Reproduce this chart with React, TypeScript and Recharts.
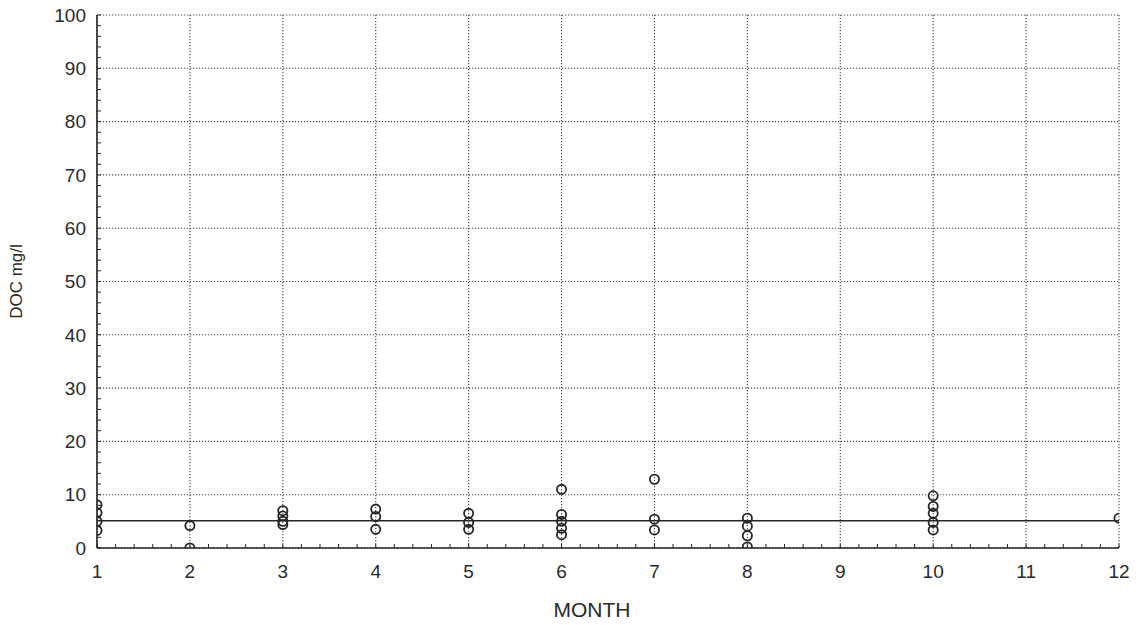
import React from 'react';
import { ScatterChart, Scatter, XAxis, YAxis, CartesianGrid, ReferenceLine } from 'recharts';

// ---- data -------------------------------------------------------------
const monthTicks = [1, 2, 3, 4, 5, 6, 7, 8, 9, 10, 11, 12];
const docTicks = [0, 10, 20, 30, 40, 50, 60, 70, 80, 90, 100];
const monthMinorTicks = Array.from({ length: 56 }, (_, i) => Math.round((1 + i * 0.2) * 10) / 10);
const docMinorTicks = Array.from({ length: 51 }, (_, i) => i * 2);

const sampleMonths = [
  1, 1, 1, 1,
  2, 2,
  3, 3, 3, 3,
  4, 4, 4,
  5, 5, 5,
  6, 6, 6, 6, 6,
  7, 7, 7,
  8, 8, 8, 8,
  10, 10, 10, 10, 10,
  12,
];
const sampleDOC = [
  8.1, 6.6, 5.0, 3.3,
  4.2, 0,
  7.0, 6.0, 5.0, 4.4,
  7.3, 5.9, 3.5,
  6.5, 4.8, 3.5,
  11.0, 6.3, 5.0, 3.7, 2.5,
  12.9, 5.4, 3.4,
  5.6, 4.1, 2.3, 0.2,
  9.8, 7.8, 6.5, 4.8, 3.4,
  5.6,
];
const meanDOC = 5.1;

const points = sampleMonths.map((m, i) => ({ month: m, doc: sampleDOC[i] }));

// ---- style ------------------------------------------------------------
const FONT = '"Liberation Sans", Arial, Helvetica, sans-serif';
const INK = '#262626';
const TEXT = '#2a2a2a';
const MINOR = 4;
const X_MARGIN = 17;
const Y_MARGIN = 11;

const isMajor = (v: number, step: number) => Math.abs(v / step - Math.round(v / step)) < 1e-6;

const BottomTick = (props: any) => {
  const { x, y, payload } = props;
  const v = payload.value;
  const axisY = y - X_MARGIN;
  return (
    <g>
      <line x1={x} x2={x} y1={axisY} y2={axisY - MINOR} stroke={INK} strokeWidth={1} />
      {isMajor(v, 1) && (
        <text x={x} y={y} dy="0.71em" textAnchor="middle" fontSize={19} fill={TEXT} fontFamily={FONT}>
          {Math.round(v)}
        </text>
      )}
    </g>
  );
};

const TopTick = (props: any) => {
  const { x, y } = props;
  return <line x1={x} x2={x} y1={y} y2={y + MINOR} stroke={INK} strokeWidth={1} />;
};

const LeftTick = (props: any) => {
  const { x, y, payload } = props;
  const v = payload.value;
  const axisX = x + Y_MARGIN;
  return (
    <g>
      <line x1={axisX} x2={axisX + MINOR} y1={y} y2={y} stroke={INK} strokeWidth={1} />
      {isMajor(v, 10) && (
        <text x={x} y={y} dy="0.355em" textAnchor="end" fontSize={19} fill={TEXT} fontFamily={FONT}>
          {v}
        </text>
      )}
    </g>
  );
};

const RightTick = (props: any) => {
  const { x, y } = props;
  return <line x1={x} x2={x - MINOR} y1={y} y2={y} stroke={INK} strokeWidth={1} />;
};

const Ring = (props: any) => (
  <circle cx={props.cx} cy={props.cy} r={4.6} fill="none" stroke={INK} strokeWidth={1.8} />
);

const axisLineStyle = { stroke: INK, strokeWidth: 1.6 };

export default function App() {
  return (
    <div style={{ position: 'absolute', left: 0, top: 0, width: 1139, height: 625, background: '#fff' }}>
      <ScatterChart
        width={1139}
        height={625}
        margin={{ top: 15, right: 20, left: 0, bottom: 0 }}
        style={{ fontFamily: FONT }}
      >
        <CartesianGrid
          xAxisId={0}
          yAxisId={0}
          verticalValues={monthTicks}
          horizontalValues={docTicks}
          stroke="#444"
          strokeWidth={1.1}
          strokeDasharray="1.2 1.8"
        />
        <XAxis
          xAxisId={0}
          dataKey="month"
          type="number"
          domain={[1, 12]}
          ticks={monthMinorTicks}
          interval={0}
          allowDataOverflow
          height={77}
          tickSize={0}
          tickMargin={X_MARGIN}
          tickLine={false}
          axisLine={axisLineStyle}
          tick={(p: any) => <BottomTick {...p} />}
          label={{
            content: (p: any) => {
              const vb = p.viewBox;
              return (
                <text
                  x={vb.x + vb.width / 2 - 16}
                  y={vb.y + vb.height - 8}
                  textAnchor="middle"
                  fontSize={21}
                  fill={TEXT}
                  fontFamily={FONT}
                >
                  MONTH
                </text>
              );
            },
          }}
        />
        <XAxis
          xAxisId="top"
          orientation="top"
          type="number"
          domain={[1, 12]}
          ticks={monthMinorTicks}
          interval={0}
          allowDataOverflow
          height={0}
          tickSize={0}
          tickMargin={0}
          tickLine={false}
          axisLine={axisLineStyle}
          tick={(p: any) => <TopTick {...p} />}
        />
        <YAxis
          yAxisId={0}
          dataKey="doc"
          type="number"
          domain={[0, 100]}
          ticks={docMinorTicks}
          interval={0}
          allowDataOverflow
          width={97}
          tickSize={0}
          tickMargin={Y_MARGIN}
          tickLine={false}
          axisLine={axisLineStyle}
          tick={(p: any) => <LeftTick {...p} />}
          label={{
            value: 'DOC mg/l',
            angle: -90,
            position: 'insideLeft',
            offset: 16,
            style: { textAnchor: 'middle', fontSize: 17, fill: TEXT, fontFamily: FONT },
          }}
        />
        <YAxis
          yAxisId="right"
          orientation="right"
          type="number"
          domain={[0, 100]}
          ticks={docMinorTicks}
          interval={0}
          allowDataOverflow
          width={0}
          tickSize={0}
          tickMargin={0}
          tickLine={false}
          axisLine={axisLineStyle}
          tick={(p: any) => <RightTick {...p} />}
        />
        <ReferenceLine xAxisId={0} yAxisId={0} y={meanDOC} stroke={INK} strokeWidth={1.5} />
        <Scatter
          xAxisId={0}
          yAxisId={0}
          data={points}
          dataKey="doc"
          shape={Ring}
          isAnimationActive={false}
        />
      </ScatterChart>
    </div>
  );
}
